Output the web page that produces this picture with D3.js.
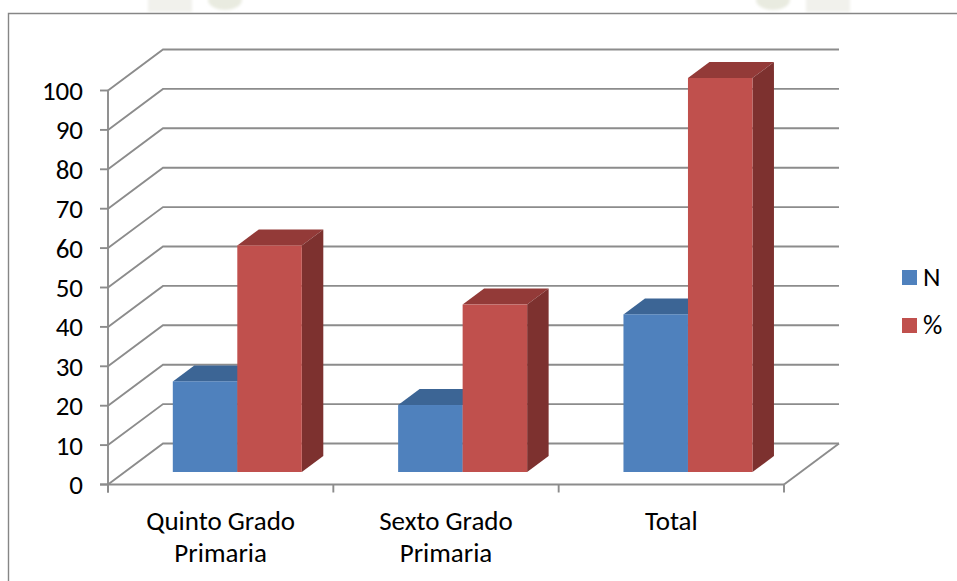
<!DOCTYPE html>
<html><head><meta charset="utf-8">
<script src="https://cdn.jsdelivr.net/npm/d3@7"></script>
<style>
html,body{margin:0;padding:0;background:#fff}
svg{display:block}
text{font-family:Carlito,"Open Sans","Noto Sans",sans-serif;fill:#000}
</style></head><body><div id="c"></div>
<script>
const categories = [["Quinto Grado","Primaria"],["Sexto Grado","Primaria"],["Total"]];
const seriesN = [23, 17, 40];
const seriesPct = [57.5, 42.5, 100];
const seriesNames = ["N","%"];
const tickValues = [0,10,20,30,40,50,60,70,80,90,100];

const W=957,H=581;
const svg=d3.select("#c").append("svg").attr("width",W).attr("height",H);
const grid="#8c8c8c";

// faint watermark remnants above the frame
const defs=svg.append("defs");
defs.append("filter").attr("id","soft").append("feGaussianBlur").attr("stdDeviation",1.5);
const wm=svg.append("g").attr("filter","url(#soft)");
wm.append("rect").attr("x",148).attr("y",-4).attr("width",44).attr("height",16).attr("fill","#f1f1ec");
wm.append("rect").attr("x",806).attr("y",-4).attr("width",44).attr("height",16).attr("fill","#f1f1ec");
wm.append("ellipse").attr("cx",225).attr("cy",0).attr("rx",17).attr("ry",10).attr("fill","#e9ebe0");
wm.append("ellipse").attr("cx",773).attr("cy",0).attr("rx",17).attr("ry",10).attr("fill","#e9ebe0");

// chart frame
svg.append("path").attr("d","M8.5,581V13.5H957").attr("fill","none").attr("stroke","#868686").attr("stroke-width",1.4);

const y=d3.scaleLinear().domain([0,100]).range([484.5,90.5]);
const x=d3.scaleBand().domain(d3.range(categories.length)).range([108,784]);
const depthX=55,depthY=41;

// back wall gridlines
const gl=svg.append("g").attr("fill","none").attr("stroke",grid).attr("stroke-width",1.9);
tickValues.forEach(v=>{
  gl.append("path").attr("d",d3.line()([[x.range()[0],y(v)],[x.range()[0]+depthX,y(v)-depthY],[x.range()[1]+depthX,y(v)-depthY]]));
});
// floor edge and right side
gl.append("path").attr("d",d3.line()([[x.range()[1],y(0)],[x.range()[1]+depthX,y(0)-depthY]]));

// axes
const axisG=svg.append("g").attr("stroke",grid).attr("stroke-width",1.9);
axisG.append("line").attr("x1",108).attr("x2",108).attr("y1",y(100)).attr("y2",y(0)+8);
axisG.append("line").attr("x1",100).attr("x2",784).attr("y1",y(0)).attr("y2",y(0));
tickValues.forEach(v=>axisG.append("line").attr("x1",100).attr("x2",108).attr("y1",y(v)).attr("y2",y(v)));
d3.range(categories.length+1).forEach(i=>{
  const px=108+i*x.bandwidth();
  axisG.append("line").attr("x1",px).attr("x2",px).attr("y1",y(0)).attr("y2",y(0)+8);
});
svg.append("g").selectAll("text").data(tickValues).join("text")
  .attr("x",83).attr("y",v=>y(v)+9.5).attr("text-anchor","end").attr("font-size",27).text(d=>d);

// bars
const offX=64.8,offY=12.5,barW=64.5,dX=21.5,dY=16;
const colors=[{f:"#4f81bd",t:"#3c6595",s:"#3a6088"},{f:"#c0504d",t:"#933a38",s:"#7d312f"}];
const bars=svg.append("g");
[seriesN,seriesPct].forEach((vals,s)=>{
  vals.forEach((v,i)=>{
    const bx=x(i)+offX+s*barW, by0=y(0)-offY, h=y(0)-y(v), top=by0-h, c=colors[s];
    const g=bars.append("g");
    g.append("path").attr("fill",c.t).attr("d",d3.line()([[bx,top],[bx+dX,top-dY],[bx+barW+dX,top-dY],[bx+barW,top]]));
    g.append("path").attr("fill",c.s).attr("d",d3.line()([[bx+barW,top],[bx+barW+dX,top-dY],[bx+barW+dX,by0-dY],[bx+barW,by0]]));
    g.append("rect").attr("fill",c.f).attr("x",bx).attr("y",top).attr("width",barW).attr("height",h);
  });
});

// category labels
categories.forEach((lines,i)=>{
  const t=svg.append("text").attr("text-anchor","middle").attr("font-size",27);
  lines.forEach((l,j)=>t.append("tspan").attr("x",x(i)+x.bandwidth()/2).attr("y",529.5+j*32).text(l));
});

// legend
seriesNames.forEach((n,i)=>{
  const ly=270+i*48;
  svg.append("rect").attr("x",902).attr("y",ly).attr("width",15).attr("height",15).attr("fill",colors[i].f);
  svg.append("text").attr("x",923).attr("y",ly+16).attr("font-size",27).text(n);
});
</script></body></html>
